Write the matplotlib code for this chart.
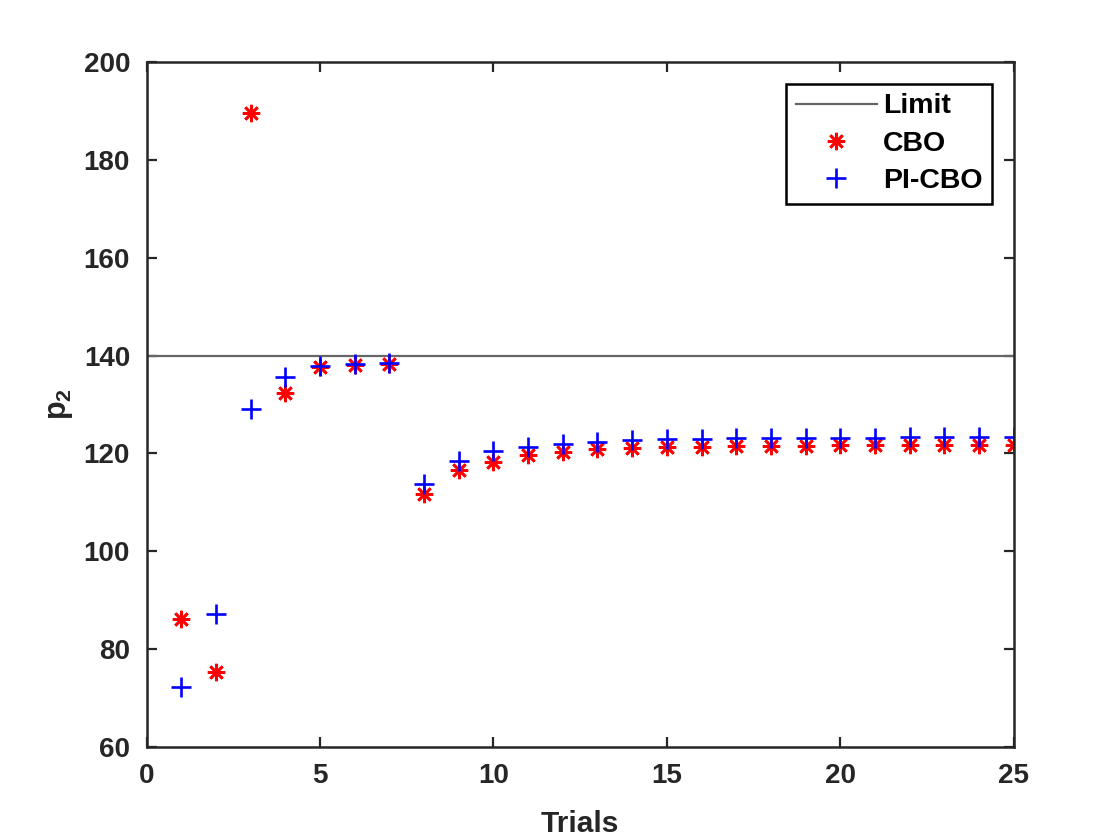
import numpy as np
import matplotlib
matplotlib.use("Agg")
import matplotlib.pyplot as plt

# Данные
trials = np.arange(1, 26)
cbo = [86.1, 75.3, 189.6, 132.3, 137.6, 138.0, 138.2, 111.6, 116.5, 118.3,
       119.6, 120.2, 120.8, 121.0, 121.3, 121.4, 121.5, 121.6, 121.6, 121.7,
       121.7, 121.7, 121.7, 121.8, 121.8]
pi_cbo = [72.2, 87.2, 129.0, 135.6, 137.9, 138.3, 138.5, 113.8, 118.5, 120.4,
          121.3, 121.9, 122.4, 122.7, 122.9, 123.0, 123.1, 123.1, 123.2, 123.2,
          123.2, 123.3, 123.3, 123.3, 123.3]
limit = 140

plt.rcParams['font.family'] = ['Liberation Sans', 'DejaVu Sans']
plt.rcParams['font.weight'] = 'bold'
plt.rcParams['mathtext.fontset'] = 'custom'
plt.rcParams['mathtext.rm'] = 'Liberation Sans:bold'
plt.rcParams['mathtext.bf'] = 'Liberation Sans:bold'
plt.rcParams['mathtext.default'] = 'bf'

fig = plt.figure(figsize=(11.2, 8.4), dpi=100)
ax = fig.add_axes([0.131, 0.111, 0.774, 0.815])

ax.axhline(limit, color='#666666', lw=1.6, label='Limit')
ax.plot(trials, cbo, ls='none', marker=(8, 2, 0), ms=12.5, mew=1.9,
        color='red', label='CBO')
ax.plot(trials, pi_cbo, ls='none', marker='+', ms=14, mew=1.9,
        color='blue', label='PI-CBO')

ax.set_xlim(0, 25)
ax.set_ylim(60, 200)
ax.set_xticks(range(0, 26, 5))
ax.set_yticks(range(60, 201, 20))
ax.tick_params(direction='in', length=7, width=1.6, top=True, right=True,
               labelsize=20, colors='#262626')
ax.tick_params(axis='x', pad=12)
ax.tick_params(axis='y', pad=12)
for s in ax.spines.values():
    s.set_linewidth(1.8)
    s.set_color('#262626')

ax.set_xlabel('Trials', fontsize=21.5, fontweight='bold', color='#262626', labelpad=15)
ax.set_ylabel(r'$\mathbf{p_2}$', fontsize=22, color='#262626', labelpad=6)

leg = ax.legend(loc='upper right', fontsize=20.5, handlelength=2.85,
                fancybox=False, framealpha=1, edgecolor='black',
                borderaxespad=0.75, labelspacing=0.4, handletextpad=0.2,
                borderpad=0.35)
leg.get_frame().set_linewidth(1.8)

fig.savefig('out.png', dpi=100)
